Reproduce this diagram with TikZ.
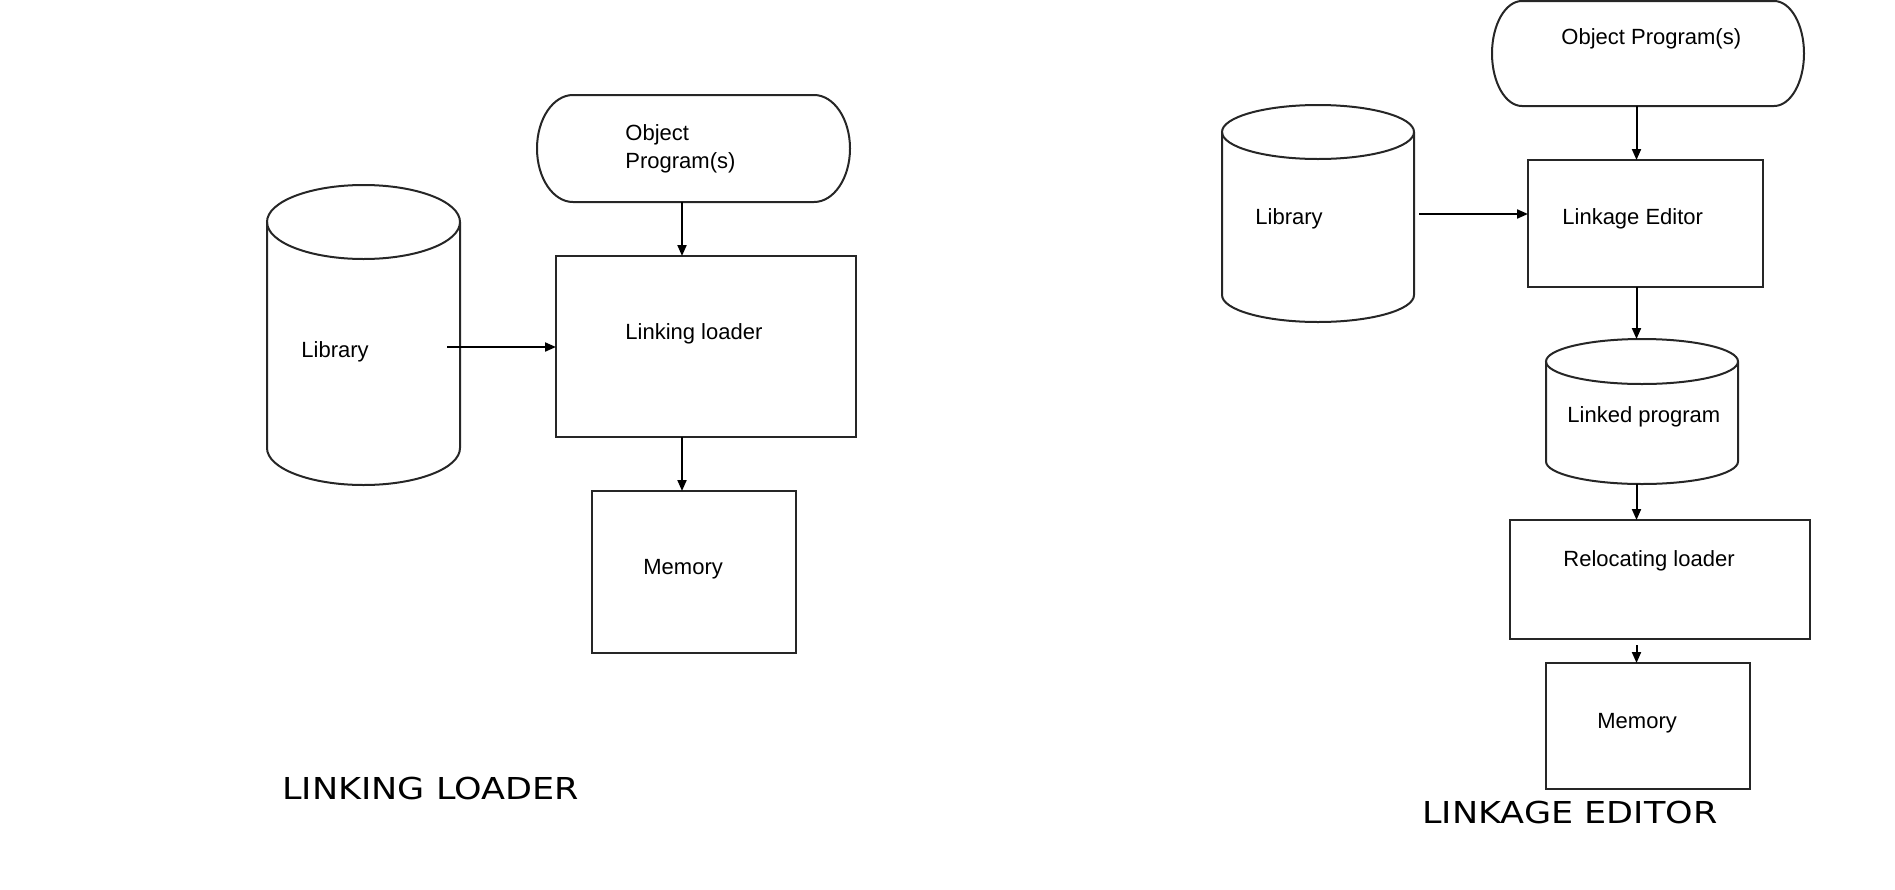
\documentclass[tikz,border=0pt]{standalone}
\usepackage{fontspec}
\setmainfont{Liberation Sans}
\newfontfamily\bannerfont{DejaVu Sans}[FakeStretch=1.16]
\usetikzlibrary{arrows.meta, calc}
\tikzset{
  flowline/.style={line width=1pt, draw=black!85},
  flowarrow/.style={-{Triangle[length=5.5pt, width=4.5pt]}, line width=1pt},
  flowbox/.style={rectangle, flowline, inner sep=0pt, outer sep=0pt},
  flowshape/.style={rectangle, inner sep=0pt, outer sep=0pt},
  flowtext/.style={anchor=base west, inner sep=0pt, font=\fontsize{11}{14}\selectfont},
  flowtitle/.style={anchor=base west, inner sep=0pt, font=\bannerfont\fontsize{15.1}{18}\selectfont},
}
% outline of a terminal node: name, end x radius, end y radius
\newcommand{\flowterminal}[3]{%
  \draw[flowline] ($(#1.north west)+(#2,0pt)$) -- ($(#1.north east)+(-#2,0pt)$)
    arc[start angle=90, end angle=-90, x radius=#2, y radius=#3]
    -- ($(#1.south west)+(#2,0pt)$)
    arc[start angle=270, end angle=90, x radius=#2, y radius=#3] -- cycle;}
% outline of a storage node: name, x radius, cap y radius
\newcommand{\flowcylinder}[3]{%
  \draw[flowline] ($(#1.north west)+(0pt,-#3)$) -- ($(#1.south west)+(0pt,#3)$)
    arc[start angle=180, end angle=360, x radius=#2, y radius=#3]
    -- ($(#1.north east)+(0pt,-#3)$);
  \draw[flowline] ($(#1.north)+(0pt,-#3)$) ellipse [x radius=#2, y radius=#3];}

\begin{document}
\begin{tikzpicture}[x=0.5pt, y=-0.5pt]
  \useasboundingbox (0,0) rectangle (1895,889);

  % Linking loader
  \node[flowshape, minimum width=156.5pt, minimum height=53.5pt] (objL) at (693.5,148.5) {};
  \node[flowshape, minimum width=96.5pt, minimum height=150pt] (libL) at (363.5,335) {};
  \node[flowbox, minimum width=150pt, minimum height=90.5pt] (linkL) at (706,346.5) {};
  \node[flowbox, minimum width=102pt, minimum height=81pt] (memL) at (694,572) {};
  \flowterminal{objL}{18pt}{26.75pt}
  \flowcylinder{libL}{48.25pt}{18.5pt}

  \node[flowtext, anchor=north west, align=left] (objLtxt) at (625,124) {Object\\Program(s)};
  \node[flowtext] (libLtxt) at (301,357) {Library};
  \node[flowtext] (linkLtxt) at (625,339) {Linking loader};
  \node[flowtext] (memLtxt) at (643,574) {Memory};
  \node[flowtitle] (titleL) at (282,799) {LINKING LOADER};

  \coordinate (axisL) at (682,0);
  \coordinate (libLtap) at (447,347);
  \draw[flowarrow] (objL.south -| axisL) -- (linkL.north -| axisL);
  \draw[flowarrow] (linkL.south -| axisL) -- (memL.north -| axisL);
  \draw[flowarrow] (libLtap) -- (libLtap -| linkL.west);

  % Linkage editor
  \node[flowshape, minimum width=156pt, minimum height=52.5pt] (objR) at (1648,53.5) {};
  \node[flowshape, minimum width=96pt, minimum height=108.5pt] (libR) at (1318,213.5) {};
  \node[flowbox, minimum width=117.5pt, minimum height=63.5pt] (editR) at (1645.5,223.5) {};
  \node[flowshape, minimum width=96pt, minimum height=72.5pt] (lnkR) at (1642,411.5) {};
  \node[flowbox, minimum width=150pt, minimum height=59.5pt] (relR) at (1660,579.5) {};
  \node[flowbox, minimum width=102pt, minimum height=63pt] (memR) at (1648,726) {};
  \flowterminal{objR}{15pt}{26.25pt}
  \flowcylinder{libR}{48pt}{13.5pt}
  \flowcylinder{lnkR}{48pt}{11.25pt}

  \node[flowtext] (objRtxt) at (1561,44) {Object Program(s)};
  \node[flowtext] (libRtxt) at (1255,224) {Library};
  \node[flowtext] (editRtxt) at (1562,224) {Linkage Editor};
  \node[flowtext] (lnkRtxt) at (1567,422) {Linked program};
  \node[flowtext] (relRtxt) at (1563,566) {Relocating loader};
  \node[flowtext] (memRtxt) at (1597,728) {Memory};
  \node[flowtitle] (titleR) at (1422,823) {LINKAGE EDITOR};

  \coordinate (axisR) at (1636.5,0);
  \coordinate (libRtap) at (1419,214);
  \coordinate (relRtap) at (1636.5,645);
  \draw[flowarrow] (objR.south -| axisR) -- (editR.north -| axisR);
  \draw[flowarrow] (editR.south -| axisR) -- (lnkR.north -| axisR);
  \draw[flowarrow] (lnkR.south -| axisR) -- (relR.north -| axisR);
  \draw[flowarrow] (relRtap) -- (relRtap |- memR.north);
  \draw[flowarrow] (libRtap) -- (libRtap -| editR.west);
\end{tikzpicture}
\end{document}
